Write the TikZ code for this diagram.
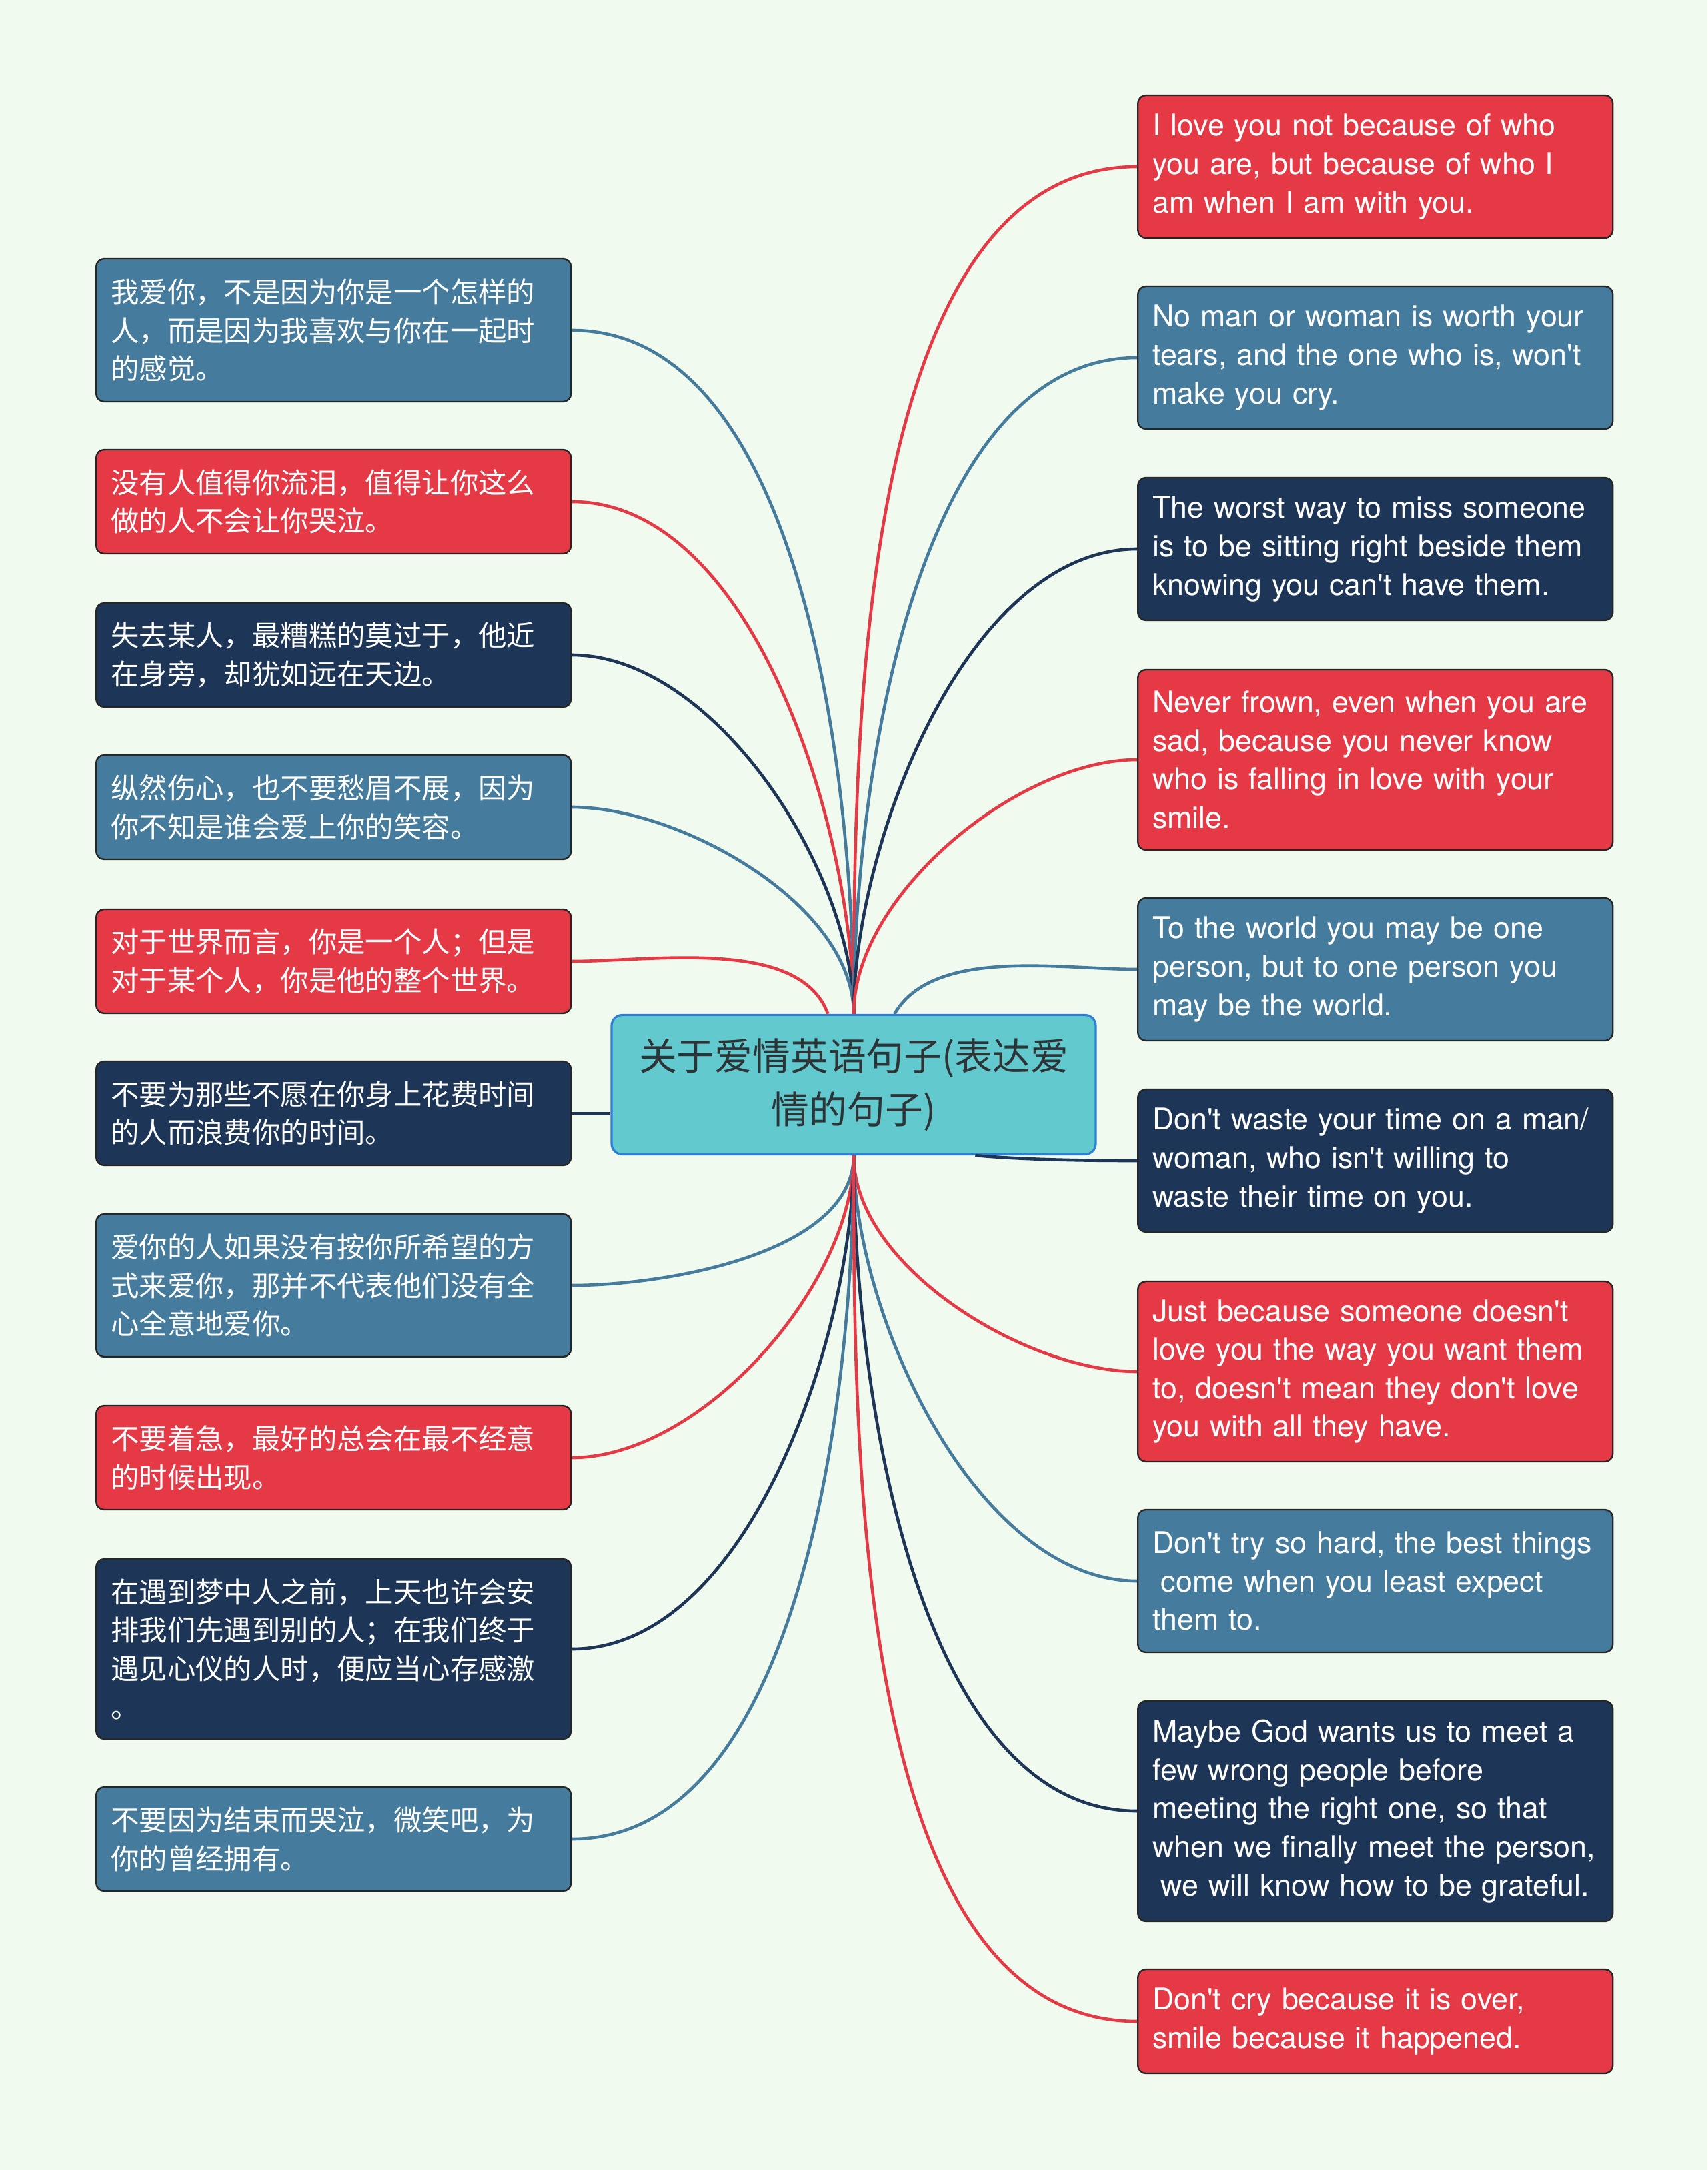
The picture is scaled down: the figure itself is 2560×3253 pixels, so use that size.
\documentclass[tikz,border=0pt]{standalone}
\usepackage{fontspec}
\newfontfamily\enfont{TeX Gyre Heros}
\newfontfamily\cjk{Noto Sans CJK SC}
\usetikzlibrary{calc}
\definecolor{shutuBg}{HTML}{F1FAEE}
\definecolor{shutuRed}{HTML}{E63946}
\definecolor{shutuBlue}{HTML}{457B9D}
\definecolor{shutuNavy}{HTML}{1D3557}
\definecolor{shutuHub}{HTML}{62CACF}
\definecolor{shutuHubLine}{HTML}{2F7FD9}
\definecolor{shutuHubText}{HTML}{2E3436}

\begin{document}
\begin{tikzpicture}[
  x=0.25pt, y=-0.25pt,
  leafnode/.style={draw=black!85, line width=0.6pt, rounded corners=3pt, text=white,
                   align=left, text width=167pt, inner xsep=5.5pt, inner ysep=0pt,
                   execute at begin node={\hyphenpenalty=10000\hbadness=10000\hfuzz=20pt}},
  cnleaf/.style={leafnode, anchor=west, font=\cjk\fontsize{10.6}{14.4}\selectfont},
  enleaf/.style={leafnode, anchor=west, font=\enfont\fontsize{11.2}{14.4}\selectfont},
  hubnode/.style={draw=shutuHubLine, line width=0.8pt, fill=shutuHub, rounded corners=4pt,
                  text=shutuHubText, align=center, minimum width=181.5pt, minimum height=52.25pt,
                  font=\cjk\fontsize{14.2}{20}\selectfont},
  link/.style={line width=1.15pt, looseness=0.8}
]
\fill[shutuBg] (0,0) rectangle (2560,3253);
\useasboundingbox (0,0) rectangle (2560,3253);

\node[hubnode] (hub) at (1280,1626) {关于爱情英语句子(表达爱\\情的句子)};

% left side
\node[cnleaf, fill=shutuBlue, minimum height=53.5pt] (love) at (143,495) {我爱你，不是因为你是一个怎样的\\人，而是因为我喜欢与你在一起时\\的感觉。};
\node[cnleaf, fill=shutuRed, minimum height=39pt] (tears) at (143,752) {没有人值得你流泪，值得让你这么\\做的人不会让你哭泣。};
\node[cnleaf, fill=shutuNavy, minimum height=39pt] (miss) at (143,982) {失去某人，最糟糕的莫过于，他近\\在身旁，却犹如远在天边。};
\node[cnleaf, fill=shutuBlue, minimum height=39pt] (frown) at (143,1210) {纵然伤心，也不要愁眉不展，因为\\你不知是谁会爱上你的笑容。};
\node[cnleaf, fill=shutuRed, minimum height=39pt] (world) at (143,1441) {对于世界而言，你是一个人；但是\\对于某个人，你是他的整个世界。};
\node[cnleaf, fill=shutuNavy, minimum height=39pt] (waste) at (143,1669) {不要为那些不愿在你身上花费时间\\的人而浪费你的时间。};
\node[cnleaf, fill=shutuBlue, minimum height=53.5pt] (way) at (143,1927) {爱你的人如果没有按你所希望的方\\式来爱你，那并不代表他们没有全\\心全意地爱你。};
\node[cnleaf, fill=shutuRed, minimum height=39pt] (hurry) at (143,2185) {不要着急，最好的总会在最不经意\\的时候出现。};
\node[cnleaf, fill=shutuNavy, minimum height=67.5pt] (dream) at (143,2472) {在遇到梦中人之前，上天也许会安\\排我们先遇到别的人；在我们终于\\遇见心仪的人时，便应当心存感激\\。};
\node[cnleaf, fill=shutuBlue, minimum height=39pt] (smile) at (143,2757) {不要因为结束而哭泣，微笑吧，为\\你的曾经拥有。};

% right side
\node[enleaf, fill=shutuRed, minimum height=53.5pt] (enlove) at (1705,250) {I love you not because of who\\you are, but because of who I\\am when I am with you.};
\node[enleaf, fill=shutuBlue, minimum height=53.5pt] (entears) at (1705,536) {No man or woman is worth your\\tears, and the one who is, won't\\make you cry.};
\node[enleaf, fill=shutuNavy, minimum height=53.5pt] (enmiss) at (1705,823) {The worst way to miss someone\\is to be sitting right beside them\\knowing you can't have them.};
\node[enleaf, fill=shutuRed, minimum height=67.5pt] (enfrown) at (1705,1139) {Never frown, even when you are\\sad, because you never know\\who is falling in love with your\\smile.};
\node[enleaf, fill=shutuBlue, minimum height=53.5pt] (enworld) at (1705,1453) {To the world you may be one\\person, but to one person you\\may be the world.};
\node[enleaf, fill=shutuNavy, minimum height=53.5pt] (enwaste) at (1705,1740) {Don't waste your time on a man/\\woman, who isn't willing to\\waste their time on you.};
\node[enleaf, fill=shutuRed, minimum height=67.5pt] (enway) at (1705,2056) {Just because someone doesn't\\love you the way you want them\\to, doesn't mean they don't love\\you with all they have.};
\node[enleaf, fill=shutuBlue, minimum height=53.5pt] (enhurry) at (1705,2370) {Don't try so hard, the best things\\\hspace*{.28em}come when you least expect\\them to.};
\node[enleaf, fill=shutuNavy, minimum height=82.5pt] (endream) at (1705,2715) {Maybe God wants us to meet a\\few wrong people before\\meeting the right one, so that\\when we finally meet the person,\\\hspace*{.28em}we will know how to be grateful.};
\node[enleaf, fill=shutuRed, minimum height=39pt] (ensmile) at (1705,3030) {Don't cry because it is over,\\smile because it happened.};

% connectors
\draw[link, shutuBlue] (hub) to[out=90, in=0] (love);
\draw[link, shutuRed] (hub) to[out=90, in=0] (tears);
\draw[link, shutuNavy] (hub) to[out=90, in=0] (miss);
\draw[link, shutuBlue] (hub) to[out=90, in=0] (frown);
\draw[link, shutuRed] (hub) to[out=110, in=0] (world);
\draw[link, shutuNavy] (waste.east) -- (waste.east -| hub.west);
\draw[link, shutuBlue] (hub) to[out=-90, in=0] (way);
\draw[link, shutuRed] (hub) to[out=-90, in=0] (hurry);
\draw[link, shutuNavy] (hub) to[out=-90, in=0] (dream);
\draw[link, shutuBlue] (hub) to[out=-90, in=0] (smile);
\draw[link, shutuRed] (hub) to[out=90, in=180] (enlove);
\draw[link, shutuBlue] (hub) to[out=90, in=180] (entears);
\draw[link, shutuNavy] (hub) to[out=90, in=180] (enmiss);
\draw[link, shutuRed] (hub) to[out=90, in=180] (enfrown);
\draw[link, shutuBlue] (hub) to[out=60, in=180] (enworld);
\draw[link, shutuNavy] ($(hub.south)!.5!(hub.south east)$) to[out=-5, in=180] (enwaste);
\draw[link, shutuRed] (hub) to[out=-90, in=180] (enway);
\draw[link, shutuBlue] (hub) to[out=-90, in=180] (enhurry);
\draw[link, shutuNavy] (hub) to[out=-90, in=180] (endream);
\draw[link, shutuRed] (hub) to[out=-90, in=180] (ensmile);
\end{tikzpicture}
\end{document}
